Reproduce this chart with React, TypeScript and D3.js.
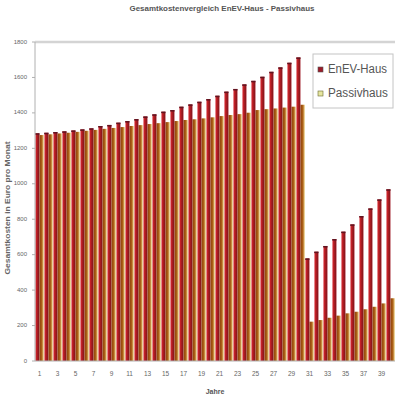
import React from 'react';
import * as d3 from 'd3';

const YEARS = d3.range(1, 41);

const ENEV = [
    1285, 1288, 1292, 1296, 1301, 1307, 1313, 1326, 1332, 1345,
    1354, 1365, 1380, 1392, 1407, 1416, 1435, 1448, 1463, 1478,
    1497, 1520, 1535, 1561, 1581, 1604, 1632, 1657, 1683, 1713,
    579, 617, 649, 688, 730, 771, 818, 861, 912, 969
];

const PASSIV = [
    1275, 1279, 1284, 1288, 1293, 1299, 1304, 1310, 1315, 1320,
    1326, 1331, 1337, 1342, 1348, 1354, 1360, 1364, 1369, 1375,
    1382, 1388, 1393, 1401, 1416, 1421, 1425, 1430, 1435, 1446,
    222, 231, 244, 256, 269, 278, 292, 306, 325, 354
];

const Y_TICKS = [0, 200, 400, 600, 800, 1000, 1200, 1400, 1600, 1800];
const X_LABELS = YEARS.filter(y => y % 2 === 1);

const SERIES = ['EnEV-Haus', 'Passivhaus'];

const App: React.FC = () => {
    const width = 400;
    const height = 400;
    const margin = { top: 42, right: 5, bottom: 39, left: 35 };
    const innerW = width - margin.left - margin.right;
    const innerH = height - margin.top - margin.bottom;

    const x = d3.scaleBand<number>()
        .domain(YEARS)
        .range([0, innerW])
        .paddingInner(0.04)
        .paddingOuter(0.02);

    const xs = d3.scaleBand<string>()
        .domain(SERIES)
        .range([0, x.bandwidth()])
        .padding(0);

    const y = d3.scaleLinear()
        .domain([0, 1800])
        .range([innerH, 0]);

    const font = '"Liberation Sans", Arial, sans-serif';

    return (
        <svg width={width} height={height}
            style={{ position: 'absolute', left: 0, top: 0, background: '#fff' }}>
            <defs>
                <linearGradient id="gradEnev" x1="0" x2="1" y1="0" y2="0">
                    <stop offset="0%" stopColor="#e88a90" />
                    <stop offset="30%" stopColor="#c42228" />
                    <stop offset="75%" stopColor="#8e161c" />
                    <stop offset="100%" stopColor="#a8303a" />
                </linearGradient>
                <linearGradient id="gradPassiv" x1="0" x2="1" y1="0" y2="0">
                    <stop offset="0%" stopColor="#8a3e0a" />
                    <stop offset="55%" stopColor="#b06418" />
                    <stop offset="100%" stopColor="#f0dc98" />
                </linearGradient>
            </defs>

            <text x={222} y={11} textAnchor="middle" fontFamily={font} fontSize="7.5px"
                fontWeight="bold" fill="#555" textLength={185} lengthAdjust="spacingAndGlyphs">
                Gesamtkostenvergleich EnEV-Haus - Passivhaus
            </text>

            <g transform={`translate(${margin.left}, ${margin.top})`}>
                <line x1={0} x2={innerW} y1={y(1800)} y2={y(1800)} stroke="#d4d4d4" strokeWidth={2.5} />

                {YEARS.map((yr, i) => (
                    <g key={yr} transform={`translate(${x(yr)}, 0)`}>
                        <rect
                            x={xs('EnEV-Haus')}
                            y={y(ENEV[i])}
                            width={xs.bandwidth()}
                            height={innerH - y(ENEV[i])}
                            fill="url(#gradEnev)"
                        />
                        <rect
                            x={xs('EnEV-Haus')}
                            y={y(ENEV[i])}
                            width={xs.bandwidth()}
                            height={1.5}
                            fill="#601420"
                        />
                        <rect
                            x={xs('Passivhaus')}
                            y={y(PASSIV[i])}
                            width={xs.bandwidth()}
                            height={innerH - y(PASSIV[i])}
                            fill="url(#gradPassiv)"
                        />
                    </g>
                ))}

                <line x1={0} x2={0} y1={y(1800)} y2={innerH} stroke="#b0b0b0" strokeWidth={1} />
                <line x1={0} x2={innerW} y1={innerH} y2={innerH} stroke="#b0b0b0" strokeWidth={1} />

                {Y_TICKS.map(t => (
                    <g key={t}>
                        <line x1={-3} x2={0} y1={y(t)} y2={y(t)} stroke="#b0b0b0" />
                        <text x={-8} y={y(t)} textAnchor="end" dominantBaseline="middle"
                            fontFamily={font} fontSize="6px" fill="#666">
                            {t}
                        </text>
                    </g>
                ))}

                {X_LABELS.map(l => (
                    <text key={l}
                        x={(x(l) || 0) + x.bandwidth() / 2}
                        y={innerH + 15}
                        textAnchor="middle"
                        fontFamily={font}
                        fontSize="6.5px"
                        fill="#666">
                        {l}
                    </text>
                ))}

                <text x={180} y={innerH + 33} textAnchor="middle" fontFamily={font}
                    fontSize="7px" fontWeight="bold" fill="#555">
                    Jahre
                </text>
            </g>

            <text transform="translate(10, 208) rotate(-90)" textAnchor="middle" fontFamily={font}
                fontSize="7.5px" fontWeight="bold" fill="#666" textLength={133} lengthAdjust="spacingAndGlyphs">
                Gesamtkosten in Euro pro Monat
            </text>

            <g transform="translate(313, 54)">
                <rect x={0} y={0} width={80} height={54} fill="#fff" stroke="#c4c4c4" strokeWidth={1} />
                <rect x={5} y={13} width={5} height={5} fill="#9c1a28" stroke="#555" strokeWidth={0.6} />
                <text x={15} y={15.5} dominantBaseline="middle" fontFamily={font} fontSize="12px"
                    fill="#555" textLength={59} lengthAdjust="spacingAndGlyphs">
                    EnEV-Haus
                </text>
                <rect x={5} y={37} width={5} height={5} fill="#e6e6a0" stroke="#6a6a30" strokeWidth={0.6} />
                <text x={15} y={39.5} dominantBaseline="middle" fontFamily={font} fontSize="12px"
                    fill="#555" textLength={60} lengthAdjust="spacingAndGlyphs">
                    Passivhaus
                </text>
            </g>
        </svg>
    );
};

export default App;
